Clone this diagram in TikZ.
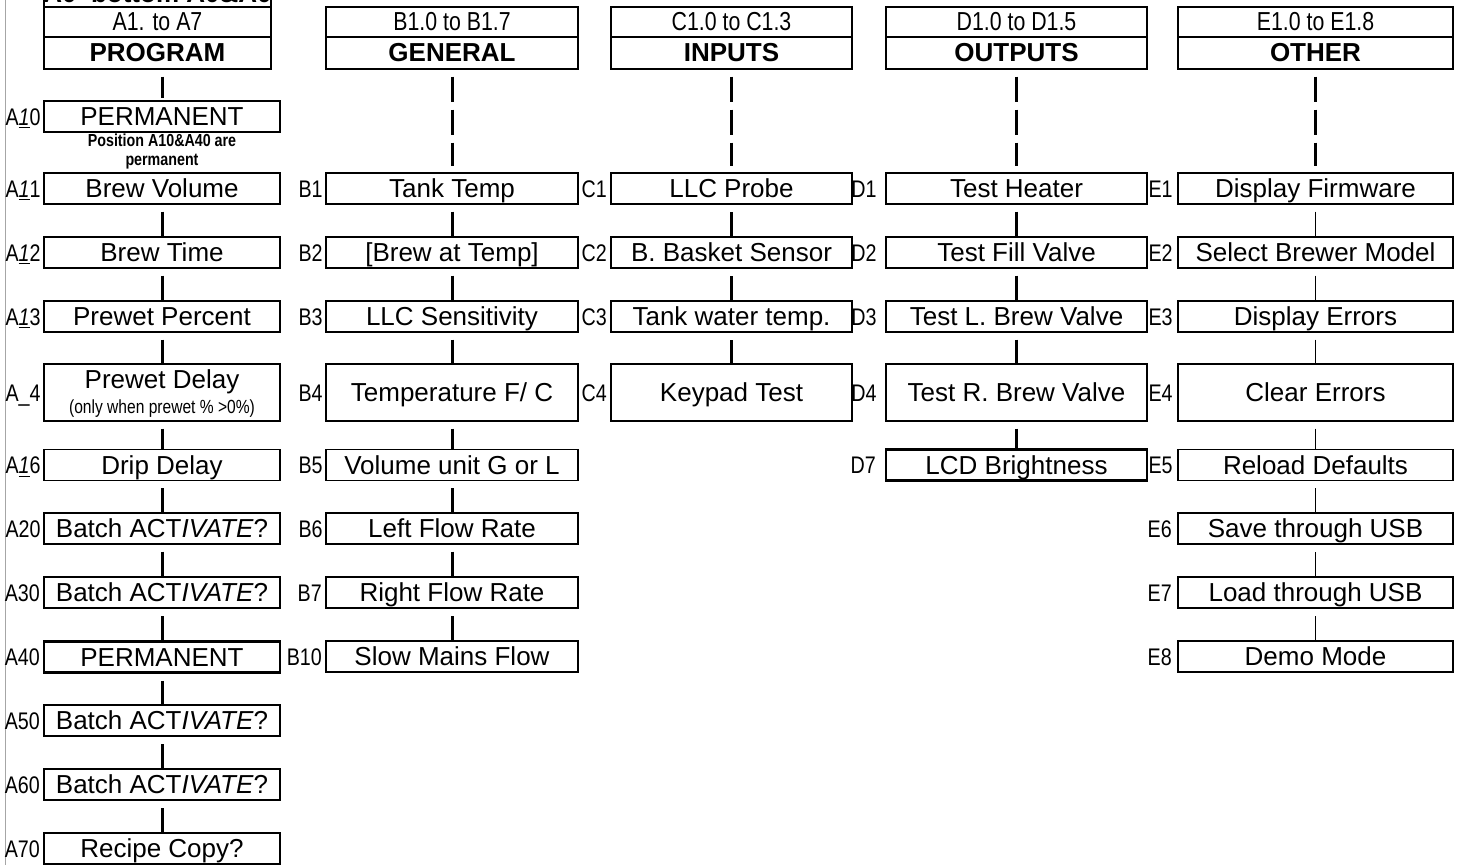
\documentclass[tikz,border=0pt]{standalone}
\usepackage{fontspec}
\setmainfont{Liberation Sans}
\newfontfamily\narrowfont[FakeStretch=0.82]{Liberation Sans}
\begin{document}
\begin{tikzpicture}[x=0.5pt,y=-0.5pt]
\tikzset{
  itembox/.style={draw, line width=0.6pt, inner sep=0pt, minimum height=15.5pt,
    font=\fontsize{13}{15}\selectfont, text height=10pt, text depth=1pt},
  thickbox/.style={itembox, line width=1.4pt},
  tallbox/.style={minimum height=28.5pt},
  wA/.style={minimum width=118pt},
  wB/.style={minimum width=126pt},
  wC/.style={minimum width=120.5pt},
  wD/.style={minimum width=130.5pt},
  wE/.style={minimum width=137.5pt},
  rowlabel/.style={anchor=east, inner sep=0pt, xshift=-1.2pt,
    font=\narrowfont\fontsize{12}{14}\selectfont, text height=9.1pt, text depth=0.5pt},
  rangebox/.style={draw, line width=0.6pt, inner sep=0pt, minimum height=15pt,
    font=\narrowfont\fontsize{13}{15}\selectfont, text height=10pt, text depth=1pt},
  namebox/.style={draw, line width=0.6pt, inner sep=0pt, minimum height=16pt,
    font=\bfseries\fontsize{13}{15}\selectfont, text height=10pt, text depth=1pt},
  link/.style={line width=1.5pt, shorten <=3.5pt},
  thinlink/.style={line width=0.75pt, shorten <=3.5pt},
  headlink/.style={line width=1.5pt, dash pattern=on 12.5pt off 4pt, shorten <=3.5pt, shorten >=3pt},
  smalltext/.style={inner sep=0pt, align=center},
}
\useasboundingbox (0,0) rectangle (1460,865);
\fill[white] (0,0) rectangle (1460,865);
% left margin rule
\draw[gray!70, line width=0.5pt] (5,-2) -- (5,867);

% ---------- headers ----------
\node[rangebox, minimum width=113.5pt, minimum height=15.5pt] (hAtop) at (157.5,-8.5) {};
\node[anchor=base, inner sep=0pt, font=\bfseries\fontsize{13}{15}\selectfont] (hAtoptext) at (157.5,3)
  {A\underline{0}~ bottom A\underline{0}\&A\underline{0}};
\node[rangebox, minimum width=113.5pt] (hArange) at (157.5,22) {A1. to A7};
\node[namebox, minimum width=113.5pt] (hA) at (157.5,53) {PROGRAM};

\node[rangebox, wB] (hBrange) at (452,22) {B1.0 to B1.7};
\node[namebox, wB] (hB) at (452,53) {GENERAL};

\node[rangebox, wC] (hCrange) at (731.5,22) {C1.0 to C1.3};
\node[namebox, wC] (hC) at (731.5,53) {INPUTS};

\node[rangebox, wD] (hDrange) at (1016.5,22) {D1.0 to D1.5};
\node[namebox, wD] (hD) at (1016.5,53) {OUTPUTS};

\node[rangebox, wE] (hErange) at (1315.5,22) {E1.0 to E1.8};
\node[namebox, wE] (hE) at (1315.5,53) {OTHER};

% ---------- column A ----------
\node[itembox, wA] (A10) at (162,116.5) {PERMANENT};
\node[smalltext, font=\narrowfont\bfseries\fontsize{8.7}{9.5}\selectfont] (A10note) at (162,152)
  {Position A10\&A40 are\\permanent};
\node[itembox, wA] (A11) at (162,188.5) {Brew Volume};
\node[itembox, wA] (A12) at (162,252.5) {Brew Time};
\node[itembox, wA] (A13) at (162,316.5) {Prewet Percent};
\node[itembox, wA, tallbox] (A14) at (162,392.5) {};
\node[anchor=base, inner sep=0pt, font=\fontsize{13}{15}\selectfont] (A14t) at (162,389) {Prewet Delay};
\node[anchor=base, inner sep=0pt, font=\narrowfont\fontsize{9.5}{11}\selectfont] (A14s) at (162,414) {(only when prewet \% >0\%)};
\node[itembox, wA] (A16) at (162,465) {Drip Delay};
\node[itembox, wA] (A20) at (162,528.5) {Batch ACT\textit{IVATE}?};
\node[thickbox, wA] (A30) at (162,592.5) {Batch ACT\textit{IVATE}?};
\node[thickbox, wA] (A40) at (162,657) {PERMANENT};
\node[thickbox, wA] (A50) at (162,720.5) {Batch ACT\textit{IVATE}?};
\node[thickbox, wA] (A60) at (162,784.5) {Batch ACT\textit{IVATE}?};
\node[thickbox, wA] (A70) at (162,848.5) {Recipe Copy?};

\node[rowlabel] (lA10) at (A10.west) {A\underline{\textit{1}}0};
\node[rowlabel] (lA11) at (A11.west) {A\underline{\textit{1}}1};
\node[rowlabel] (lA12) at (A12.west) {A\underline{\textit{1}}2};
\node[rowlabel] (lA13) at (A13.west) {A\underline{\textit{1}}3};
\node[rowlabel] (lA14) at (A14.west) {A\_4};
\node[rowlabel] (lA16) at (A16.west) {A\underline{\textit{1}}6};
\node[rowlabel] (lA20) at (A20.west) {A20};
\node[rowlabel] (lA30) at (A30.west) {A30};
\node[rowlabel] (lA40) at (A40.west) {A40};
\node[rowlabel] (lA50) at (A50.west) {A50};
\node[rowlabel] (lA60) at (A60.west) {A60};
\node[rowlabel] (lA70) at (A70.west) {A70};

% ---------- column B ----------
\node[itembox, wB] (B1) at (452,188.5) {Tank Temp};
\node[itembox, wB] (B2) at (452,252.5) {[Brew at Temp]};
\node[itembox, wB] (B3) at (452,316.5) {LLC Sensitivity};
\node[itembox, wB, tallbox] (B4) at (452,392.5) {Temperature F/ C};
\node[itembox, wB] (B5) at (452,465) {Volume unit G or L};
\node[itembox, wB] (B6) at (452,528.5) {Left Flow Rate};
\node[thickbox, wB] (B7) at (452,592.5) {Right Flow Rate};
\node[thickbox, wB] (B10) at (452,656.5) {Slow Mains Flow};
\foreach \n/\t in {B1/B1,B2/B2,B3/B3,B4/B4,B5/B5,B6/B6,B7/B7,B10/B10}
  \node[rowlabel] (l\n) at (\n.west) {\t};

% ---------- column C ----------
\node[thickbox, wC] (C1) at (731.5,188.5) {LLC Probe};
\node[thickbox, wC] (C2) at (731.5,252.5) {B. Basket Sensor};
\node[thickbox, wC] (C3) at (731.5,316.5) {Tank water temp.};
\node[thickbox, wC, tallbox] (C4) at (731.5,392.5) {Keypad Test};
\foreach \n in {C1,C2,C3,C4}
  \node[rowlabel] (l\n) at (\n.west) {\n};

% ---------- column D ----------
\node[itembox, wD] (D1) at (1016.5,188.5) {Test Heater};
\node[itembox, wD] (D2) at (1016.5,252.5) {Test Fill Valve};
\node[itembox, wD] (D3) at (1016.5,316.5) {Test L. Brew Valve};
\node[itembox, wD, tallbox] (D4) at (1016.5,392.5) {Test R. Brew Valve};
\node[thickbox, wD] (D7) at (1016.5,465) {LCD Brightness};
\foreach \n in {D1,D2,D3,D4,D7}
  \node[rowlabel, xshift=-3pt] (l\n) at (\n.west) {\n};

% ---------- column E ----------
\node[itembox, wE] (E1) at (1315.5,188.5) {Display Firmware};
\node[itembox, wE] (E2) at (1315.5,252.5) {Select Brewer Model};
\node[itembox, wE] (E3) at (1315.5,316.5) {Display Errors};
\node[itembox, wE, tallbox] (E4) at (1315.5,392.5) {Clear Errors};
\node[itembox, wE] (E5) at (1315.5,465) {Reload Defaults};
\node[thickbox, wE] (E6) at (1315.5,528.5) {Save through USB};
\node[thickbox, wE] (E7) at (1315.5,592.5) {Load through USB};
\node[thickbox, wE] (E8) at (1315.5,656.5) {Demo Mode};
\foreach \n in {E1,E2,E3,E4,E5,E6,E7,E8}
  \node[rowlabel, xshift=-1pt] (l\n) at (\n.west) {\n};

% ---------- connectors ----------
\draw[link, shorten >=1pt] (A10.north |- hA.south) -- (A10.north);
\draw[link] (A11.south) -- (A12.north);
\draw[link] (A12.south) -- (A13.north);
\draw[link] (A13.south) -- (A14.north);
\draw[link] (A14.south) -- (A16.north);
\draw[link] (A16.south) -- (A20.north);
\draw[link] (A20.south) -- (A30.north);
\draw[link] (A30.south) -- (A40.north);
\draw[link] (A40.south) -- (A50.north);
\draw[link] (A50.south) -- (A60.north);
\draw[link] (A60.south) -- (A70.north);

\draw[headlink] (hB.south) -- (B1.north);
\draw[link] (B1.south) -- (B2.north);
\draw[link] (B2.south) -- (B3.north);
\draw[link] (B3.south) -- (B4.north);
\draw[link] (B4.south) -- (B5.north);
\draw[link] (B5.south) -- (B6.north);
\draw[link] (B6.south) -- (B7.north);
\draw[link] (B7.south) -- (B10.north);

\draw[headlink] (hC.south) -- (C1.north);
\draw[link] (C1.south) -- (C2.north);
\draw[link] (C2.south) -- (C3.north);
\draw[link] (C3.south) -- (C4.north);

\draw[headlink] (hD.south) -- (D1.north);
\draw[link] (D1.south) -- (D2.north);
\draw[link] (D2.south) -- (D3.north);
\draw[link] (D3.south) -- (D4.north);
\draw[link] (D4.south) -- (D7.north);

\draw[headlink] (hE.south) -- (E1.north);
\draw[thinlink] (E1.south) -- (E2.north);
\draw[thinlink] (E2.south) -- (E3.north);
\draw[thinlink] (E3.south) -- (E4.north);
\draw[thinlink] (E4.south) -- (E5.north);
\draw[thinlink] (E5.south) -- (E6.north);
\draw[thinlink] (E6.south) -- (E7.north);
\draw[thinlink] (E7.south) -- (E8.north);
\end{tikzpicture}
\end{document}
